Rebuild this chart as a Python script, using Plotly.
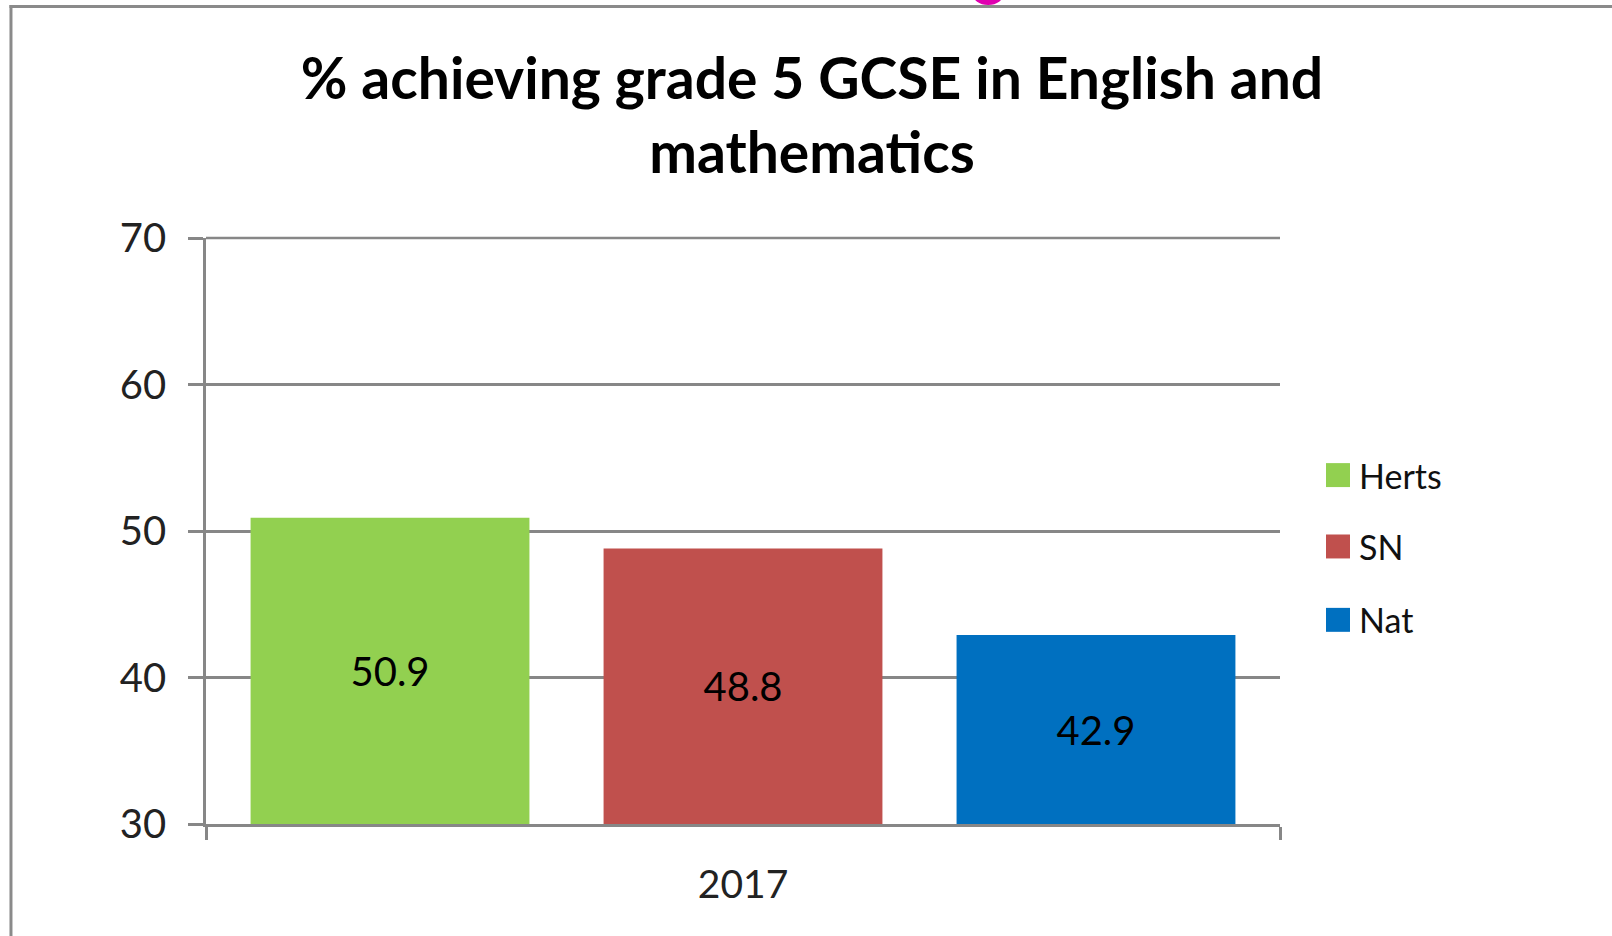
import plotly.graph_objects as go

categories = ["2017"]
series_names = ["Herts", "SN", "Nat"]
series_values = [[50.9], [48.8], [42.9]]
series_colors = ["#92D050", "#C0504D", "#0070C0"]
y_ticks = [30, 40, 50, 60, 70]
title_text = "% achieving grade 5 GCSE in English and<br>mathematics"

W, H = 1612, 936
L, R, T, B = 205.6, 1280.0, 237.5, 824.5
PW, PH = R - L, B - T
Y_MIN, Y_MAX = y_ticks[0], y_ticks[-1]

def px_x(p):
    return (p - L) / PW

def px_y(p):
    return (B - p) / PH

FONT = "Lato, 'Open Sans', sans-serif"
GRID = "#878787"

fig = go.Figure()
for name, vals, col in zip(series_names, series_values, series_colors):
    fig.add_trace(go.Bar(
        x=categories,
        y=[v - Y_MIN for v in vals],
        base=Y_MIN,
        name=name,
        marker=dict(color=col, line=dict(width=0)),
        text=[f"{v:.1f}" for v in vals],
        customdata=vals,
        hovertemplate="%{customdata}<extra>" + name + "</extra>",
        textposition="inside", insidetextanchor="middle", textangle=0,
        textfont=dict(family=FONT, size=40, color="#000000"),
        showlegend=False,
    ))

fig.update_layout(
    width=W, height=H,
    margin=dict(l=L, r=W - R, t=T, b=H - B, pad=0),
    paper_bgcolor="white", plot_bgcolor="white",
    barmode="group", bargap=0.014, bargroupgap=0.21,
    title=dict(text=title_text, x=812 / W, xref="container", xanchor="center",
               y=1 - 99 / H, yref="container", yanchor="middle",
               font=dict(family=FONT, size=57, color="#000000", weight="bold")),
    showlegend=False,
)

fig.update_yaxes(range=[Y_MIN, Y_MAX], tickvals=y_ticks, ticktext=[str(t) for t in y_ticks],
                 showgrid=True, gridcolor=GRID, gridwidth=2.5,
                 showline=True, linecolor=GRID, linewidth=2.5,
                 ticks="outside", ticklen=15, tickwidth=2.5, tickcolor=GRID,
                 ticklabelstandoff=14,
                 tickfont=dict(family=FONT, size=40, color="#222222"),
                 zeroline=False)
fig.update_xaxes(showline=True, linecolor=GRID, linewidth=2.5,
                 ticks="outside", tickson="boundaries", ticklen=13, tickwidth=2.5,
                 tickcolor=GRID, ticklabelstandoff=24,
                 tickfont=dict(family=FONT, size=39, color="#222222"),
                 showgrid=False)

# top gridline at the range edge (Plotly omits it); paper ref so it is not clipped
fig.add_shape(type="line", xref="paper", yref="paper", x0=0, x1=1, y0=1, y1=1,
              line=dict(color=GRID, width=2.5), layer="below")

# legend drawn as squares + labels, built from the series lists
leg_centers = [475, 546.5, 620]
for name, col, cy in zip(series_names, series_colors, leg_centers):
    fig.add_shape(type="rect", xref="paper", yref="paper",
                  x0=px_x(1326), x1=px_x(1350), y0=px_y(cy - 12), y1=px_y(cy + 12),
                  fillcolor=col, line=dict(width=0))
    fig.add_annotation(text=name, xref="paper", yref="paper", x=px_x(1357), y=px_y(cy),
                       xanchor="left", yanchor="middle", showarrow=False,
                       font=dict(family=FONT, size=34, color="#111111"))

# frame border (top and left edges visible)
fig.add_shape(type="line", xref="paper", yref="paper",
              x0=px_x(9), x1=px_x(W + 5), y0=px_y(5.5), y1=px_y(5.5),
              line=dict(color="#8A8A8A", width=3))
fig.add_shape(type="line", xref="paper", yref="paper",
              x0=px_x(10.5), x1=px_x(10.5), y0=px_y(4), y1=px_y(H + 5),
              line=dict(color="#8A8A8A", width=3))
# pink mark at top edge
fig.add_shape(type="circle", xref="paper", yref="paper", layer="below",
              x0=px_x(972), x1=px_x(1004), y0=px_y(-20), y1=px_y(4),
              fillcolor="#E000B0", line=dict(width=0))

fig.write_html("out.html", config={"displayModeBar": False},
               post_script="document.body.style.margin='0';")
